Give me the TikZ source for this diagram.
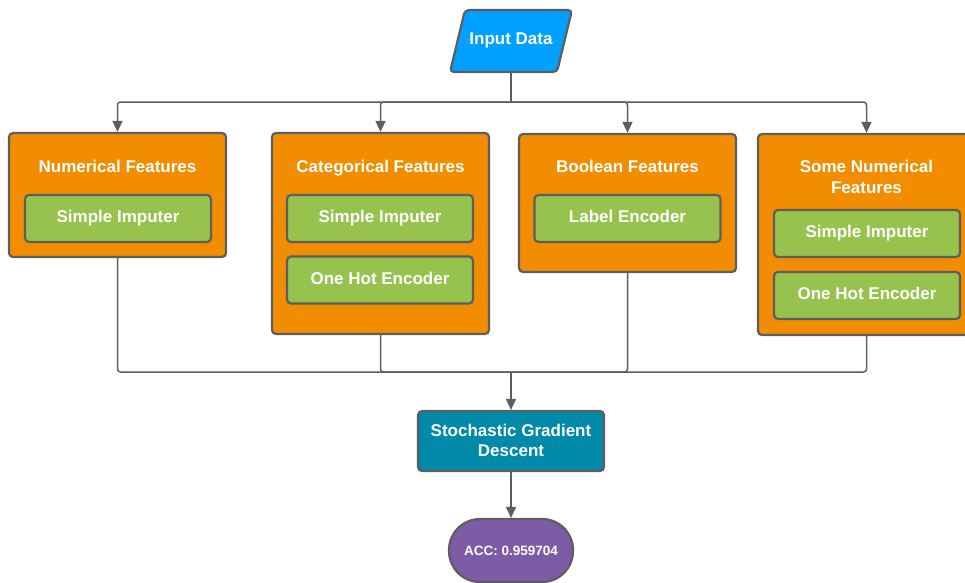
\documentclass[tikz,border=0pt]{standalone}
\usepackage{fontspec}
\setmainfont{Liberation Sans}
\usepackage{xcolor}
\definecolor{edge}{RGB}{94, 94, 94}
\definecolor{inblue}{RGB}{0, 160, 255}
\definecolor{featorange}{RGB}{242, 140, 0}
\definecolor{stepgreen}{RGB}{151, 194, 77}
\definecolor{modelteal}{RGB}{0, 137, 168}
\definecolor{scorepurple}{RGB}{125, 91, 166}
\usepackage{tikz}
\usetikzlibrary{arrows.meta,positioning,calc}

\begin{document}
\begin{tikzpicture}[
  x=1pt, y=-1pt,
  every node/.style={font=\fontsize{17}{20.5}\selectfont\bfseries, text=white, align=center},
  oneline/.style={text height=12pt, text depth=3.5pt},
  group/.style={draw=edge, fill=featorange, line width=2.2pt, rounded corners=4pt, minimum width=217pt},
  stepbox/.style={oneline, draw=edge, fill=stepgreen, line width=2.2pt, rounded corners=4pt, minimum width=186pt, minimum height=47pt},
  link/.style={draw=edge, line width=1.5pt, rounded corners=3pt},
  arrow/.style={link, -{Triangle[length=11pt, width=10pt]}}
]
\useasboundingbox (0,0) rectangle (965,582);

\filldraw[draw=edge, fill=inblue, line width=2.2pt, rounded corners=4pt]
  (465,10) -- (572,10) -- (557,72) -- (450,72) -- cycle;
\node[oneline, minimum height=62pt] (input) at (511,40) {Input Data};

\node[group, minimum height=124pt] (num) at (117.5,195) {};
\node[oneline] (numT) at (117.5,168) {Numerical Features};
\node[stepbox] (numS) at (118,218.5) {Simple Imputer};

\node[group, minimum height=201pt] (cat) at (380.5,233.5) {};
\node[oneline] (catT) at (380.5,168) {Categorical Features};
\node[stepbox] (catS) at (380,218.5) {Simple Imputer};
\node[stepbox] (catO) at (380,280) {One Hot Encoder};

\node[group, minimum height=138pt] (bool) at (627.5,203) {};
\node[oneline] (boolT) at (627.5,168) {Boolean Features};
\node[stepbox] (boolL) at (627.5,218.5) {Label Encoder};

\node[group, minimum height=201pt] (some) at (866.5,234.5) {};
\node (someT) at (866.5,177) {Some Numerical\\Features};
\node[stepbox] (someS) at (867,233.5) {Simple Imputer};
\node[stepbox] (someO) at (867,295.5) {One Hot Encoder};

\node[draw=edge, fill=modelteal, line width=2.2pt, rounded corners=4pt, minimum width=186pt, minimum height=60pt] (sgd) at (511,441) {\raisebox{1.5pt}{Stochastic Gradient}\\\raisebox{1.5pt}{Descent}};
\node[draw=edge, fill=scorepurple, line width=2.2pt, rounded corners=31pt, minimum width=124pt, minimum height=63pt, font=\fontsize{13.5}{16}\selectfont\bfseries] (acc) at (511,550.5) {ACC: 0.959704};

\coordinate (split) at (511,102);
\coordinate (merge) at (511,372);

\draw[link] (input.south) -- (split);
\draw[arrow] (split) -| (num.north);
\draw[arrow] (split) -| (cat.north);
\draw[arrow] (split) -| (bool.north);
\draw[arrow] (split) -| (some.north);

\draw[link] (num.south) |- (merge);
\draw[link] (cat.south) |- (merge);
\draw[link] (bool.south) |- (merge);
\draw[link] (some.south) |- (merge);
\draw[arrow] (merge) -- (sgd.north);
\draw[arrow] (sgd.south) -- (acc.north);
\end{tikzpicture}
\end{document}
